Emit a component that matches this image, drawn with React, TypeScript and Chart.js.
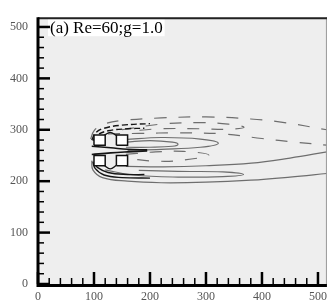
import React, { useEffect, useRef } from "react";
import { Chart, registerables } from "chart.js";
Chart.register(...registerables);

// axes
const xLimits = [0, 516];
const yLimits = [0, 519];
const xTicks = [0, 100, 200, 300, 400, 500];
const yTicks = [0, 100, 200, 300, 400, 500];
const minorStep = 20;
const titleText = "(a) Re=60;g=1.0";

// square cylinders: left x, bottom y, side
const squareLeft = [100, 140, 100, 140];
const squareBottom = [270, 270, 230, 230];
const squareSide = 20;

// negative vorticity contours (dashed)
const negOuter: number[][] = [[94,282],[100,298],[115,310],[150,318],[220,323],[300,325],[380,321],[440,314],[516,300]];
const negNear1: number[][] = [[96,280],[103,294],[118,303],[150,309],[200,312]];
const negNear2: number[][] = [[98,279],[106,290],[125,298],[160,302],[190,303]];
const negLoop: number[][] = [[150,300],[220,311],[290,314],[340,311],[368,305],[340,301],[290,302],[220,302],[160,297]];
const negInner: number[][] = [[125,292],[180,293],[250,294],[330,292],[400,283],[460,276],[516,270]];
const negGapLoop: number[][] = [[157,252],[210,257],[260,258],[305,251],[260,241],[210,239],[160,244]];

// positive vorticity contours (solid)
const posUpperInner: number[][] = [[157,276],[200,279],[240,276],[250,272],[240,268],[200,266],[157,266]];
const posUpperOuter: number[][] = [[155,281],[220,285],[290,282],[322,274],[290,266],[220,262],[160,260]];
const posOuter: number[][] = [[96,240],[98,222],[115,207],[160,200],[220,197],[300,198],[380,202],[450,208],[516,215]];
const posNear1: number[][] = [[98,238],[102,225],[118,212],[150,207],[200,206]];
const posNear2: number[][] = [[100,236],[106,227],[125,217],[160,213],[190,213]];
const posLoop: number[][] = [[120,222],[170,212],[250,208],[330,209],[367,213],[330,218],[250,219],[180,221]];
const posInner: number[][] = [[157,229],[223,228],[300,230],[381,235],[450,245],[516,257]];

// dense contours in the gaps between the cylinders
const gapLine1: number[][] = [[96,252],[130,255],[160,257],[195,259]];
const gapLine2: number[][] = [[96,268],[130,265],[160,262],[195,261]];
const gapArchTop: number[][] = [[118,289],[129,295],[140,289]];
const gapArchBottom: number[][] = [[118,231],[129,224],[140,231]];

const toPts = (a: number[][]) => a.map(([x, y]) => ({ x, y }));

function squarePoly(i: number) {
  const x0 = squareLeft[i], y0 = squareBottom[i], s = squareSide;
  return [
    { x: x0, y: y0 }, { x: x0 + s, y: y0 }, { x: x0 + s, y: y0 + s }, { x: x0, y: y0 + s }, { x: x0, y: y0 },
  ];
}

export default function App() {
  const ref = useRef<HTMLCanvasElement>(null);
  useEffect(() => {
    const canvas = ref.current!;
    const gray = "#6e6e6e";
    const dark = "#151515";
    const line = (d: number[][], color: string, dash: number[], width = 1.2) => ({
      data: toPts(d), showLine: true, borderColor: color, borderWidth: width, borderDash: dash,
      pointRadius: 0, tension: 0.4, fill: false,
    });
    const squares = squareLeft.map((_, i) => ({
      data: squarePoly(i), showLine: true, borderColor: "#111", borderWidth: 1.5, backgroundColor: "#ffffff",
      pointRadius: 0, tension: 0, fill: "shape",
    }));
    const dashW = [12, 12];
    const dashN = [6, 3];
    const datasets: any[] = [
      ...squares,
      line(gapLine1, dark, [], 1.6), line(gapLine2, dark, [], 1.6),
      line(gapArchTop, dark, [], 1.4), line(gapArchBottom, dark, [], 1.4),
      line(negNear1, dark, dashN, 1.4), line(negNear2, dark, dashN, 1.4),
      line(posNear1, dark, [], 1.4), line(posNear2, dark, [], 1.4),
      line(negOuter, gray, dashW), line(negLoop, gray, dashW), line(negInner, gray, dashW), line(negGapLoop, gray, dashW),
      line(posUpperInner, gray, []), line(posUpperOuter, gray, []), line(posOuter, gray, []), line(posLoop, gray, []), line(posInner, gray, []),
    ];

    const frame = {
      id: "frame",
      beforeDraw(c: any) {
        const { ctx, chartArea: a } = c;
        ctx.save();
        ctx.fillStyle = "#ffffff";
        ctx.fillRect(0, 0, c.width, c.height);
        ctx.fillStyle = "#eeeeee";
        ctx.fillRect(a.left, a.top, a.right - a.left, a.bottom - a.top);
        ctx.restore();
      },
      afterDraw(c: any) {
        const { ctx, chartArea: a, scales } = c;
        const xs = scales.x, ys = scales.y;
        ctx.save();
        // title box
        ctx.font = "17px 'Liberation Serif', serif";
        const tw = ctx.measureText(titleText).width;
        ctx.fillStyle = "#ffffff";
        ctx.fillRect(a.left + 10, a.top + 1, tw + 4, 18);
        ctx.fillStyle = "#000";
        ctx.textBaseline = "alphabetic";
        ctx.fillText(titleText, a.left + 12, a.top + 16);
        // frame
        ctx.strokeStyle = "#999";
        ctx.lineWidth = 1;
        ctx.beginPath(); ctx.moveTo(a.right - 0.5, a.top); ctx.lineTo(a.right - 0.5, a.bottom); ctx.stroke();
        ctx.strokeStyle = "#222";
        ctx.lineWidth = 2;
        ctx.beginPath(); ctx.moveTo(a.left, a.top + 1); ctx.lineTo(a.right, a.top + 1); ctx.stroke();
        ctx.strokeStyle = "#000";
        ctx.lineWidth = 3;
        ctx.beginPath(); ctx.moveTo(a.left, a.top); ctx.lineTo(a.left, a.bottom + 1.5); ctx.lineTo(a.right, a.bottom + 1.5); ctx.stroke();
        // ticks (pointing inward)
        for (let v = xLimits[0]; v <= xLimits[1]; v += minorStep) {
          const major = v % 100 === 0;
          const px = xs.getPixelForValue(v);
          ctx.lineWidth = major ? 2.5 : 1.5;
          ctx.beginPath(); ctx.moveTo(px, a.bottom); ctx.lineTo(px, a.bottom - (major ? 12 : 6)); ctx.stroke();
        }
        for (let v = yLimits[0]; v <= yLimits[1]; v += minorStep) {
          const major = v % 100 === 0;
          const py = ys.getPixelForValue(v);
          ctx.lineWidth = major ? 2.5 : 1.5;
          ctx.beginPath(); ctx.moveTo(a.left, py); ctx.lineTo(a.left + (major ? 12 : 6), py); ctx.stroke();
        }
        ctx.restore();
      },
    };

    const tickFont = { family: "'Liberation Serif', serif", size: 12 };
    const chart = new Chart(canvas, {
      type: "scatter",
      data: { datasets },
      options: {
        animation: false,
        responsive: false,
        events: [],
        layout: { padding: { top: 9, right: 1, left: 0, bottom: 0 } },
        plugins: { legend: { display: false }, tooltip: { enabled: false }, title: { display: false } },
        scales: {
          x: {
            type: "linear", min: xLimits[0], max: xLimits[1],
            grid: { display: false, drawTicks: false }, border: { display: false },
            afterBuildTicks: (s: any) => { s.ticks = xTicks.map((value) => ({ value })); },
            afterFit: (s: any) => { s.height = 18; },
            ticks: { font: tickFont, color: "#555", padding: 6, maxRotation: 0, autoSkip: false },
          },
          y: {
            type: "linear", min: yLimits[0], max: yLimits[1],
            grid: { display: false, drawTicks: false }, border: { display: false },
            afterBuildTicks: (s: any) => { s.ticks = yTicks.map((value) => ({ value })); },
            afterFit: (s: any) => { s.width = 38; },
            ticks: { font: tickFont, color: "#555", padding: 10, autoSkip: false },
          },
        },
      },
      plugins: [frame],
    });
    return () => chart.destroy();
  }, []);
  return (
    <div style={{ position: "fixed", left: 0, top: 0, width: 333, height: 302 }}>
      <canvas ref={ref} width={333} height={302} style={{ width: 333, height: 302 }} />
    </div>
  );
}
